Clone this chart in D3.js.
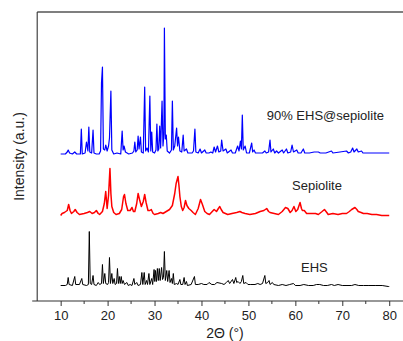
<!DOCTYPE html>
<html>
<head>
<meta charset="utf-8">
<script src="https://cdn.jsdelivr.net/npm/d3@7/dist/d3.min.js"></script>
<style>
body { margin: 0; background: #fff; }
svg text { font-family: "Liberation Sans", Arial, sans-serif; fill: #222; }
</style>
</head>
<body>
<div class="content"></div>
<script>
// [2theta, intensity above the curve's own baseline]
var blueData = [[10,0],[11,0],[11.4,2],[11.6,4],[11.9,1],[12.5,0],[13.0,2],[13.4,0],[14.2,0],[14.4,25],[14.6,0],[15.2,1],[15.5,12],[15.8,3],[16.0,27],[16.2,2],[16.6,1],[16.9,24],[17.1,1],[17.6,0],[18.2,0],[18.5,3],[18.7,71],[18.9,87],[19.1,5],[19.4,4],[19.6,9],[19.9,3],[20.2,8],[20.4,16],[20.7,63],[20.9,4],[21.3,0],[22,1],[22.8,0],[23.1,23],[23.3,4],[23.5,8],[23.8,2],[24.5,0],[25.3,1],[25.6,3],[25.8,12],[26.0,2],[26.3,4],[26.5,18],[26.7,5],[27.0,17],[27.2,2],[27.6,1],[27.9,67],[28.1,3],[28.4,6],[28.7,2],[29.0,58],[29.2,3],[29.4,22],[29.6,2],[30.0,1],[30.3,4],[30.5,30],[30.7,3],[30.9,5],[31.1,28],[31.3,6],[31.6,53],[31.8,8],[32.0,20],[32.1,126],[32.3,15],[32.5,19],[32.7,3],[33.2,1],[33.6,4],[33.8,53],[34.0,4],[34.3,8],[34.7,26],[34.9,8],[35.1,17],[35.4,3],[35.8,2],[36.1,19],[36.3,3],[36.8,5],[37.1,1],[38.0,1],[38.3,3],[38.6,25],[38.8,2],[39.3,1],[39.7,5],[40.0,1],[40.7,4],[41.0,1],[41.6,1],[42.0,2],[42.4,1],[42.7,7],[43.0,2],[43.4,8],[43.7,2],[44.1,3],[44.3,14],[44.6,3],[45.2,5],[45.5,1],[46.3,4],[46.6,1],[47.2,1],[47.7,8],[48.0,3],[48.3,13],[48.5,5],[48.7,39],[48.9,4],[49.3,8],[49.6,1],[50.2,1],[50.7,11],[50.9,2],[51.2,4],[51.5,1],[52.5,1],[53.0,1],[53.5,3],[53.8,1],[54.3,2],[54.6,14],[54.8,2],[55.3,5],[55.6,1],[56.0,3],[56.4,1],[57.2,4],[57.5,1],[58.1,5],[58.4,1],[59.0,2],[59.3,9],[59.6,2],[60.3,4],[60.6,1],[61.2,1],[61.7,5],[62.0,1],[63,1],[64,2],[64.9,2],[65.3,1],[66.5,1],[67.7,3],[68.0,1],[69.5,2],[70.9,3],[71.3,1],[71.8,2],[72.2,6],[72.5,2],[73.1,5],[73.4,2],[74.1,3],[74.4,1],[75.5,1],[77,1],[78.5,1],[80,1]];

var redData = [[10.0,-2],[10.3,0],[10.8,1],[11.4,3],[11.7,9],[12.0,3],[12.3,0],[12.8,2],[13.1,4],[13.5,1],[14.0,-1],[15.0,0],[15.7,1],[16.2,2],[16.7,0],[17.2,1],[17.6,3],[18.0,0],[18.3,-1],[18.9,2],[19.3,10],[19.6,22],[19.9,5],[20.2,18],[20.5,45],[20.7,20],[20.9,7],[21.3,1],[21.8,-1],[22.5,0],[23.0,4],[23.4,17],[23.6,19],[23.9,10],[24.3,3],[24.8,3],[25.2,6],[25.5,2],[25.8,2],[26.2,10],[26.5,20],[26.8,14],[27.2,7],[27.6,12],[27.9,19],[28.2,11],[28.6,3],[29.0,3],[29.3,4],[29.7,0],[30.0,-1],[30.8,0],[31.3,1],[31.8,0],[32.5,2],[33.2,4],[33.8,8],[34.3,20],[34.6,30],[35.0,37],[35.2,28],[35.4,17],[35.7,7],[36.0,3],[36.3,6],[36.6,13],[36.9,8],[37.3,5],[37.8,3],[38.2,1],[38.7,-1],[39.3,5],[39.8,14],[40.2,9],[40.7,2],[41.2,0],[41.7,-1],[42.3,2],[42.7,4],[43.2,2],[43.6,5],[43.9,7],[44.2,4],[44.6,1],[45.6,-1],[46.5,0],[47.5,1],[48.2,2],[48.6,1],[49.3,0],[50.3,-1],[51.5,0],[52.5,2],[53.3,3],[53.9,5],[54.3,2],[54.6,1],[55.5,0],[56.4,-1],[57.2,2],[57.9,6],[58.4,5],[58.9,1],[59.3,3],[59.7,7],[60.1,2],[60.5,4],[61.0,11],[61.3,5],[61.5,3],[61.9,3],[62.4,0],[63.5,0],[64.3,0],[64.9,-1],[65.7,2],[66.2,4],[66.7,1],[67.0,-1],[68.0,0],[69.1,-1],[70.0,0],[70.9,0],[71.5,2],[72.0,4],[72.7,6],[73.1,4],[73.4,2],[74.0,1],[74.5,0],[75.3,0],[76.3,-1],[77.3,-1],[78.4,-2],[79.2,-2],[80.0,-2]];

var blackData = [[10.0,0],[11.0,0],[11.4,1],[11.6,8],[11.8,1],[12.5,0],[13.0,9],[13.2,1],[14.0,1],[14.5,7],[14.7,1],[15.5,0],[15.9,1],[16.1,54],[16.3,2],[16.6,1],[16.9,10],[17.1,1],[17.6,0],[18.0,3],[18.3,1],[18.7,2],[18.9,21],[19.1,2],[19.4,12],[19.6,2],[20.0,1],[20.2,3],[20.4,28],[20.6,2],[20.9,12],[21.1,2],[21.4,7],[21.6,1],[21.9,2],[22.1,17],[22.3,2],[22.5,9],[22.7,2],[22.9,9],[23.1,2],[23.3,5],[23.6,1],[24.1,3],[24.4,0],[24.8,1],[25.2,0],[25.6,7],[25.8,1],[26.2,3],[26.5,0],[27.0,1],[27.3,13],[27.5,1],[27.8,13],[28.0,1],[28.3,5],[28.5,1],[28.8,12],[29.0,1],[29.4,7],[29.6,1],[29.9,16],[30.05,4],[30.2,15],[30.4,4],[30.6,17],[30.8,5],[31.0,17],[31.2,5],[31.5,18],[31.7,6],[31.9,8],[32.1,34],[32.3,5],[32.6,15],[32.8,4],[33.1,15],[33.3,3],[33.6,7],[33.8,2],[34.0,12],[34.2,1],[34.7,2],[35.0,1],[35.4,6],[35.6,1],[36.0,1],[36.3,8],[36.5,1],[36.8,4],[37.0,0],[37.8,1],[38.5,9],[38.7,1],[39.3,1],[40.0,2],[40.5,1],[41.2,1],[41.6,3],[42.2,1],[42.8,1],[43.3,3],[44.3,2],[44.8,1],[45.3,3],[45.7,5],[46.0,2],[46.6,6],[46.9,2],[47.3,8],[47.5,3],[47.8,4],[48.2,2],[48.5,4],[48.8,10],[49.0,2],[49.5,3],[49.9,1],[50.5,1],[51.4,1],[52.0,2],[52.5,1],[53.0,2],[53.5,10],[53.7,2],[54.1,3],[54.4,5],[54.6,1],[55.1,3],[55.4,1],[56.4,0],[57.2,1],[58.0,0],[58.8,1],[59.6,2],[60.0,0],[61.0,0],[61.8,1],[62.8,0],[63.8,0],[64.5,1],[65.2,1],[66.0,0],[66.8,0],[67.7,1],[68.3,0],[69.1,1],[70.0,0],[71.0,0],[72.0,0],[72.7,1],[73.5,0],[74.5,0],[75.5,0],[77,0],[78.5,0],[79.8,-1],[80,-1]];

var seriesNames = ["90% EHS@sepiolite", "Sepiolite", "EHS"];
var seriesOffsets = [147, 87.5, 15.5];
var labelPos = [[53.9, 181], [59.3, 111.5], [61.2, 29.5]];
var xTicks = [10, 20, 30, 40, 50, 60, 70, 80];
var xMinorTicks = [15, 25, 35, 45, 55, 65, 75];

var params = {
    "fullWidth": 403,
    "fullHeight": 341,
    "margin": {'top': 12, 'right': -9.7, 'bottom': 40, 'left': 37.2},
    "color": ["#0000ff", "#ff0000", "#000000"],
    "lineWidth": [1.2, 1.5, 1],
    "xLabel": "2\u0398 (\u00b0)",
    "yLabel": "Intensity (a.u.)"
};

var margin = params.margin;
var width = params.fullWidth - margin.left - margin.right;
var height = params.fullHeight - margin.top - margin.bottom;

var svg = d3.select("div.content").append("svg")
    .attr("width", params.fullWidth)
    .attr("height", params.fullHeight)
    .append("g")
    .attr("transform", "translate(" + margin.left + "," + margin.top + ")");

var x = d3.scaleLinear().domain([5, 85]).range([0, width]);
var y = d3.scaleLinear().domain([0, 289]).range([height, 0]);

//frame top + left
svg.append("line")
    .attr("x1", 0).attr("x2", width).attr("y1", 0).attr("y2", 0)
    .style("stroke", "#555").style("stroke-width", 1.3);
svg.append("line")
    .attr("x1", 0).attr("x2", 0).attr("y1", 0).attr("y2", height)
    .style("stroke", "#333").style("stroke-width", 1.1);

//x-axis
var xAxis = d3.axisBottom(x).tickValues(xTicks).tickSize(5).tickPadding(5).tickSizeOuter(0);
var gx = svg.append("g")
    .attr("class", "x-axis")
    .attr("transform", "translate(0," + height + ")")
    .call(xAxis);
gx.select(".domain").remove();
gx.append("line")
    .attr("x1", -5).attr("x2", width).attr("y1", 0).attr("y2", 0)
    .style("stroke", "#333").style("stroke-width", 1.1);
gx.selectAll(".tick line").style("stroke", "#333");
gx.selectAll(".tick text")
    .style("font-size", "13px")
    .style("font-family", "'Liberation Sans', Arial, sans-serif")
    .style("fill", "#222");
gx.selectAll(".minor")
    .data(xMinorTicks)
    .enter().append("line")
    .attr("class", "minor")
    .attr("x1", function(d){return x(d);})
    .attr("x2", function(d){return x(d);})
    .attr("y1", 0).attr("y2", 3)
    .style("stroke", "#333");

//x-label
svg.append("text")
    .attr("transform", "translate(" + x(45) + "," + (height + 36.5) + ")")
    .style("text-anchor", "middle")
    .style("font-size", "14px")
    .text(params.xLabel);
//y-label
svg.append("text")
    .attr("transform", "translate(" + (24 - margin.left) + "," + (height / 2) + ") rotate(-90)")
    .style("text-anchor", "middle")
    .style("font-size", "14px")
    .text(params.yLabel);

//patterns
[blueData, redData, blackData].forEach(function(data, i){
    var off = seriesOffsets[i];
    var line = d3.line()
        .x(function(d){return x(d[0]);})
        .y(function(d){return y(d[1] + off);});
    svg.append("path")
        .datum(data)
        .attr("class", "line")
        .attr("d", line)
        .style("fill", "none")
        .style("stroke", params.color[i])
        .style("stroke-width", params.lineWidth[i])
        .style("stroke-linejoin", "round");
    svg.append("text")
        .attr("x", x(labelPos[i][0]))
        .attr("y", y(labelPos[i][1]))
        .style("font-size", "13px")
        .text(seriesNames[i]);
});
</script>
</body>
</html>
